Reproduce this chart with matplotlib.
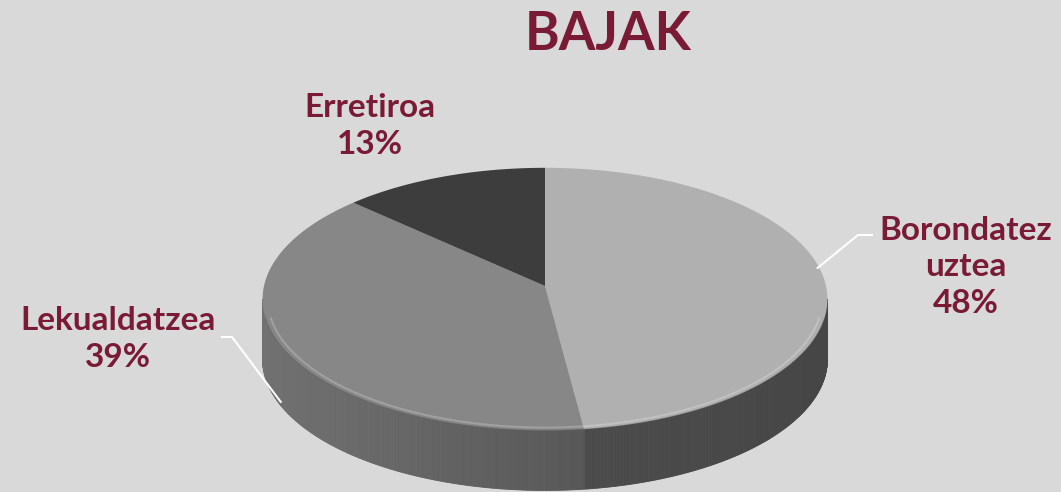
import numpy as np
import matplotlib.pyplot as plt
from matplotlib.colors import to_rgb
from matplotlib.patches import Polygon

# datos del grafico
labels = ['Borondatez\nuztea', 'Lekualdatzea', 'Erretiroa']
values = [48, 39, 13]
title = 'BAJAK'

top_colors = ['#b0b0b0', '#878787', '#3d3d3d']
# color lateral (izquierda, derecha) por sector
side_colors = [('#525252', '#464646'), ('#717171', '#444444'), ('#3a3a3a', '#333333')]
text_color = '#7a1b35'
bg = '#d9d9d9'

# geometria de la tarta (pixeles)
cx, cy = 545, 286
A, B = 281, 130
p = 0.1
depth = 60


def proj(theta, scale=1.0):
    u, v = np.sin(theta) * scale, np.cos(theta) * scale
    k = 1.0 / (1.0 + p * v)
    return cx + A * u * k, cy - B * v * k


fig = plt.figure(figsize=(10.61, 4.92), dpi=100)
fig.patch.set_facecolor(bg)
ax = fig.add_axes([0, 0, 1, 1])
ax.set_xlim(0, 1061)
ax.set_ylim(492, 0)
ax.axis('off')

vals = np.array(values, dtype=float)
bounds = np.concatenate([[0], np.cumsum(vals) / vals.sum() * 2 * np.pi])

# lateral (parte visible)
th_r = np.arccos(-p)
ths = np.linspace(th_r, 2 * np.pi - th_r, 500)
xl, xr = cx - A, cx + A
for t0, t1 in zip(ths[:-1], ths[1:]):
    tm = 0.5 * (t0 + t1)
    i = np.searchsorted(bounds, tm) - 1
    x0, y0 = proj(t0)
    x1, y1 = proj(t1)
    f = (0.5 * (x0 + x1) - xl) / (xr - xl)
    c0 = np.array(to_rgb(side_colors[i][0]))
    c1 = np.array(to_rgb(side_colors[i][1]))
    col = c0 + (c1 - c0) * f
    ax.add_patch(Polygon([(x0, y0), (x1, y1), (x1, y1 + depth), (x0, y0 + depth)],
                         closed=True, facecolor=col, edgecolor=col, lw=0.6))

# cara superior
for i in range(len(values)):
    t = np.linspace(bounds[i], bounds[i + 1], 200)
    xs, ys = proj(t)
    pts = [(cx, cy)] + list(zip(xs, ys))
    ax.add_patch(Polygon(pts, closed=True, facecolor=top_colors[i], edgecolor='none'))

# brillo del borde (solo delante)
t = np.linspace(th_r + 0.15, 2 * np.pi - th_r - 0.15, 300)
xs, ys = proj(t, 0.982)
ax.plot(xs, ys, color='white', alpha=0.22, lw=1.4)
xs, ys = proj(t)
ax.plot(xs, ys, color='#5a5a5a', alpha=0.35, lw=0.8)

# etiquetas
pcts = ['%d%%' % v for v in values]
lab_pos = [(966, 267), (118, 339), (370, 126)]
for i in range(len(values)):
    ax.text(lab_pos[i][0], lab_pos[i][1], labels[i] + '\n' + pcts[i], ha='center', va='center',
            color=text_color, fontsize=24, fontweight='bold', family='Lato', linespacing=1.3)

# lineas guia
mids = 0.5 * (bounds[:-1] + bounds[1:])
mx, my = proj(mids[0])
ax.plot([mx - 6, 858, 872], [my - 10, 235, 235], color='white', lw=1.5)
mx, my = proj(mids[1])
ax.plot([222, 232, mx - 2], [337, 337, my + depth * 0.9], color='white', lw=1.5)

ax.text(608, 35, title, ha='center', va='center', color=text_color, fontsize=38,
        fontweight='bold', family='Lato')

fig.savefig('out.png', dpi=100, facecolor=bg)
